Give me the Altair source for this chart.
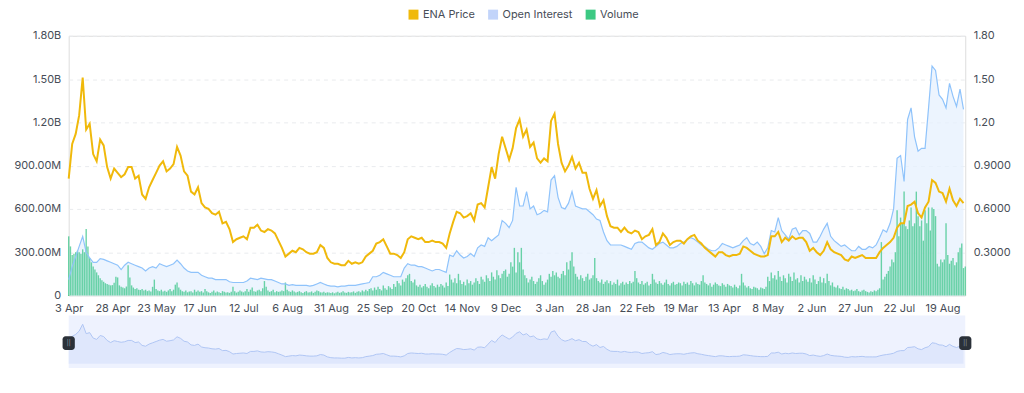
import altair as alt
import pandas as pd

# ---------------- data ----------------
tick_labels = ["3 Apr", "28 Apr", "23 May", "17 Jun", "12 Jul", "6 Aug", "31 Aug",
               "25 Sep", "20 Oct", "14 Nov", "9 Dec", "3 Jan", "28 Jan", "22 Feb",
               "19 Mar", "13 Apr", "8 May", "2 Jun", "27 Jun", "22 Jul", "19 Aug"]
tick_step = 25  # days between labelled ticks
series_names = ["ENA Price", "Open Interest", "Volume"]
line_step = 2   # price / open interest sampled every 2 days

# ENA price (USD), every 2 days
price = [
    0.81, 1.05, 1.12, 1.25, 1.51, 1.15, 1.19, 0.98, 0.93, 1.08,
    1.04, 0.89, 0.81, 0.88, 0.85, 0.82, 0.84, 0.89, 0.89, 0.81,
    0.83, 0.70, 0.67, 0.75, 0.80, 0.85, 0.90, 0.93, 0.86, 0.88,
    0.91, 1.03, 0.97, 0.86, 0.83, 0.72, 0.70, 0.75, 0.64, 0.61,
    0.60, 0.57, 0.56, 0.58, 0.50, 0.51, 0.46, 0.37, 0.39, 0.40,
    0.41, 0.39, 0.47, 0.47, 0.49, 0.45, 0.44, 0.46, 0.45, 0.43,
    0.38, 0.33, 0.27, 0.29, 0.31, 0.30, 0.33, 0.32, 0.30, 0.29,
    0.29, 0.30, 0.35, 0.33, 0.26, 0.23, 0.22, 0.22, 0.21, 0.21,
    0.24, 0.22, 0.23, 0.22, 0.23, 0.27, 0.29, 0.31, 0.36, 0.37,
    0.39, 0.34, 0.29, 0.29, 0.28, 0.26, 0.30, 0.39, 0.41, 0.40,
    0.39, 0.40, 0.37, 0.37, 0.38, 0.37, 0.37, 0.36, 0.33, 0.43,
    0.51, 0.58, 0.57, 0.54, 0.55, 0.57, 0.52, 0.63, 0.64, 0.61,
    0.75, 0.89, 0.81, 0.98, 1.10, 1.02, 0.94, 1.02, 1.16, 1.22,
    1.10, 1.15, 1.03, 1.06, 0.95, 0.92, 0.95, 0.93, 1.21, 1.26,
    1.05, 0.92, 0.86, 0.90, 0.96, 0.88, 0.92, 0.85, 0.85, 0.74,
    0.67, 0.73, 0.62, 0.66, 0.55, 0.48, 0.47, 0.47, 0.44, 0.47,
    0.44, 0.43, 0.45, 0.44, 0.39, 0.41, 0.42, 0.46, 0.35, 0.37,
    0.43, 0.40, 0.35, 0.37, 0.38, 0.38, 0.36, 0.39, 0.41, 0.42,
    0.38, 0.36, 0.33, 0.31, 0.29, 0.27, 0.30, 0.30, 0.28, 0.27,
    0.28, 0.28, 0.29, 0.34, 0.33, 0.31, 0.29, 0.28, 0.27, 0.27,
    0.28, 0.41, 0.41, 0.44, 0.37, 0.40, 0.38, 0.41, 0.39, 0.40,
    0.40, 0.37, 0.31, 0.33, 0.30, 0.28, 0.31, 0.37, 0.32, 0.30,
    0.29, 0.28, 0.25, 0.24, 0.27, 0.26, 0.27, 0.28, 0.26, 0.26,
    0.26, 0.26, 0.30, 0.33, 0.35, 0.37, 0.40, 0.47, 0.50, 0.50,
    0.62, 0.63, 0.65, 0.57, 0.54, 0.61, 0.65, 0.80, 0.78, 0.72,
    0.71, 0.65, 0.74, 0.66, 0.62, 0.67, 0.64,
]

# Open interest (billions USD), every 2 days
open_interest = [
    0.11, 0.20, 0.27, 0.34, 0.41, 0.30, 0.26, 0.23, 0.23, 0.255,
    0.25, 0.24, 0.23, 0.22, 0.21, 0.18, 0.21, 0.23, 0.22, 0.21,
    0.20, 0.19, 0.17, 0.19, 0.20, 0.19, 0.22, 0.21, 0.20, 0.21,
    0.22, 0.245, 0.22, 0.19, 0.17, 0.16, 0.16, 0.16, 0.14, 0.13,
    0.12, 0.12, 0.11, 0.11, 0.11, 0.11, 0.095, 0.09, 0.09, 0.09,
    0.09, 0.10, 0.12, 0.115, 0.11, 0.12, 0.115, 0.11, 0.11, 0.10,
    0.09, 0.08, 0.08, 0.07, 0.075, 0.07, 0.07, 0.07, 0.07, 0.065,
    0.07, 0.08, 0.09, 0.08, 0.07, 0.065, 0.065, 0.06, 0.065, 0.065,
    0.07, 0.07, 0.07, 0.075, 0.08, 0.085, 0.09, 0.13, 0.13, 0.14,
    0.16, 0.15, 0.14, 0.13, 0.13, 0.13, 0.19, 0.22, 0.21, 0.21,
    0.20, 0.20, 0.19, 0.18, 0.17, 0.18, 0.18, 0.17, 0.16, 0.28,
    0.27, 0.31, 0.28, 0.26, 0.27, 0.29, 0.27, 0.33, 0.35, 0.34,
    0.40, 0.38, 0.40, 0.42, 0.52, 0.50, 0.47, 0.52, 0.75, 0.62,
    0.62, 0.72, 0.60, 0.62, 0.56, 0.57, 0.59, 0.58, 0.80, 0.83,
    0.68, 0.61, 0.60, 0.64, 0.72, 0.62, 0.61, 0.60, 0.60, 0.58,
    0.56, 0.53, 0.52, 0.44, 0.38, 0.35, 0.35, 0.35, 0.35, 0.34,
    0.33, 0.32, 0.36, 0.37, 0.37, 0.35, 0.33, 0.32, 0.34, 0.36,
    0.37, 0.35, 0.33, 0.33, 0.34, 0.36, 0.37, 0.39, 0.40, 0.39,
    0.37, 0.35, 0.34, 0.32, 0.31, 0.31, 0.33, 0.36, 0.35, 0.34,
    0.33, 0.34, 0.35, 0.38, 0.40, 0.36, 0.35, 0.37, 0.34, 0.29,
    0.33, 0.45, 0.44, 0.54, 0.45, 0.42, 0.39, 0.46, 0.47, 0.42,
    0.45, 0.45, 0.43, 0.37, 0.37, 0.41, 0.46, 0.50, 0.41, 0.38,
    0.36, 0.34, 0.35, 0.33, 0.31, 0.31, 0.34, 0.32, 0.32, 0.34,
    0.33, 0.35, 0.40, 0.455, 0.44, 0.50, 0.60, 0.95, 0.97, 0.79,
    1.22, 1.30, 1.10, 1.00, 1.02, 1.02, 1.30, 1.59, 1.56, 1.39,
    1.36, 1.30, 1.47, 1.38, 1.31, 1.43, 1.29,
]

# Daily volume (millions USD)
volume = [
    410, 340, 280, 290, 300, 310, 300, 290, 320, 300, 460, 340, 260, 230, 200, 180, 160, 140, 120, 105, 95, 85, 80, 75, 70,
    72, 88, 130, 125, 70, 60, 55, 50, 62, 210, 125, 70, 55, 45, 50, 40, 38, 45, 35, 40, 30, 35, 28, 60, 110,
    45, 35, 30, 40, 28, 32, 25, 35, 45, 30, 40, 75, 90, 55, 40, 30, 25, 35, 22, 28, 30, 20, 40, 25, 35,
    25, 30, 20, 45, 30, 22, 18, 25, 35, 20, 28, 22, 18, 30, 25, 20, 22, 18, 25, 60, 30, 20, 25, 35, 28,
    22, 30, 45, 25, 40, 55, 30, 25, 35, 40, 30, 50, 100, 60, 35, 25, 30, 40, 22, 30, 25, 28, 35, 30, 90,
    40, 30, 25, 35, 28, 20, 25, 30, 22, 18, 25, 30, 20, 22, 28, 18, 25, 35, 30, 22, 20, 25, 18, 22, 20,
    18, 22, 15, 20, 25, 18, 22, 30, 20, 18, 25, 20, 22, 28, 18, 25, 30, 22, 35, 28, 40, 30, 45, 50, 35,
    55, 40, 60, 45, 35, 70, 50, 40, 65, 55, 45, 80, 60, 100, 85, 70, 110, 95, 120, 140, 150, 100, 90, 110, 70,
    60, 75, 55, 65, 80, 60, 50, 70, 85, 65, 55, 75, 60, 80, 70, 55, 90, 65, 145, 110, 90, 120, 85, 150, 105,
    80, 95, 70, 110, 85, 100, 75, 90, 120, 100, 80, 130, 110, 95, 140, 120, 100, 160, 130, 110, 175, 140, 120, 150, 170,
    180, 130, 150, 230, 200, 330, 160, 300, 230, 330, 180, 140, 120, 90, 110, 130, 100, 80, 95, 120, 140, 100, 75, 90, 110,
    150, 130, 170, 140, 160, 130, 120, 150, 170, 140, 230, 180, 240, 300, 200, 150, 130, 110, 140, 120, 100, 130, 150, 110, 120,
    140, 260, 120, 100, 90, 110, 80, 95, 105, 85, 100, 75, 90, 80, 110, 70, 85, 95, 75, 90, 80, 100, 85, 95, 170,
    120, 90, 80, 100, 75, 85, 95, 70, 80, 150, 110, 90, 80, 100, 85, 75, 90, 110, 80, 70, 85, 95, 75, 80, 90,
    85, 70, 95, 80, 90, 75, 100, 85, 70, 90, 80, 75, 100, 140, 90, 80, 70, 85, 60, 75, 90, 80, 70, 65, 85,
    75, 60, 80, 70, 65, 55, 75, 60, 50, 70, 150, 90, 70, 55, 65, 50, 45, 60, 55, 50, 40, 55, 50, 45, 60,
    130, 100, 160, 120, 140, 110, 170, 130, 100, 140, 120, 90, 150, 130, 100, 160, 110, 120, 90, 140, 100, 130, 110, 95, 120,
    90, 140, 110, 80, 100, 130, 90, 120, 85, 150, 100, 70, 90, 60, 55, 70, 50, 45, 60, 40, 50, 45, 35, 40, 30,
    35, 45, 30, 25, 35, 40, 30, 25, 20, 30, 25, 35, 30, 40, 50, 370, 110, 130, 150, 170, 200, 250, 230, 300, 590,
    410, 540, 500, 720, 480, 460, 520, 610, 480, 500, 720, 550, 480, 520, 380, 590, 500, 610, 450, 610, 600, 550, 220, 200, 250,
    230, 250, 500, 280, 220, 240, 260, 210, 230, 300, 330, 360, 190, 200,
]

legend_colors = ["#F0B90B", "#C2D4FA", "#3CC983"]

# ---------------- tables ----------------
n_days = len(volume)
line_df = pd.DataFrame({
    "i": [k * line_step for k in range(len(price))],
    "price": price,
    "oi": open_interest,
})
vol_df = pd.DataFrame({"i": list(range(n_days)), "vol": [v / 1000 for v in volume]})
legend_df = pd.DataFrame({"series": series_names, "i": [0] * 3, "v": [0] * 3})

FONT = "Inter"
LABEL = "#474D57"
W, H = 901, 261

xscale = alt.Scale(domain=[0, n_days - 1], nice=False, zero=False)
yscale = alt.Scale(domain=[0, 1.8], nice=False)

label_array = "[" + ",".join("'" + t + "'" for t in tick_labels) + "]"
x_axis = alt.Axis(
    values=[k * tick_step for k in range(len(tick_labels))],
    labelExpr=label_array + "[round(datum.value / " + str(tick_step) + ")]",
    grid=False, ticks=False, domain=False, labelPadding=7, title=None,
    labelFontSize=11, labelColor=LABEL, labelFont=FONT, labelFlush=False,
)
y_vals = [0, 0.3, 0.6, 0.9, 1.2, 1.5, 1.8]
y_left = alt.Axis(
    values=y_vals, orient="left", title=None,
    labelExpr="datum.value == 0 ? '0' : (datum.value < 1 ? format(datum.value * 1000, '.2f') + 'M' : format(datum.value, '.2f') + 'B')",
    grid=True, gridDash=[4, 4], gridColor="#E9EBEE", ticks=False, domain=False,
    labelPadding=8, labelFontSize=11, labelColor=LABEL, labelFont=FONT,
)
y_right = alt.Axis(
    values=y_vals[1:], orient="right", title=None,
    labelExpr="datum.value < 1 ? format(datum.value, '.4f') : format(datum.value, '.2f')",
    grid=False, ticks=False, domain=False,
    labelPadding=8, labelFontSize=11, labelColor=LABEL, labelFont=FONT,
)

x_enc = alt.X("i:Q", scale=xscale, axis=x_axis)

oi_area = alt.Chart(line_df).mark_area(color="#E6F0FE", opacity=0.75).encode(
    x=x_enc,
    y=alt.Y("oi:Q", scale=yscale, axis=y_left),
)
vol_bars = alt.Chart(vol_df).transform_calculate(
    x0="datum.i - 0.4", x1="datum.i + 0.4"
).mark_bar(color="#3CC68A", opacity=0.75).encode(
    x=alt.X("x0:Q", scale=xscale, axis=x_axis),
    x2="x1:Q",
    y=alt.Y("vol:Q", scale=yscale, axis=None),
    y2=alt.datum(0),
)
oi_line = alt.Chart(line_df).mark_line(color="#8FC3FB", strokeWidth=1.2).encode(
    x=x_enc,
    y=alt.Y("oi:Q", scale=yscale, axis=None),
)
price_line = alt.Chart(line_df).mark_line(color="#F0B90B", strokeWidth=2).encode(
    x=x_enc,
    y=alt.Y("price:Q", scale=yscale, axis=y_right),
)
legend_layer = alt.Chart(legend_df).mark_square(size=1, opacity=1).encode(
    x=x_enc,
    y=alt.Y("v:Q", scale=yscale, axis=None),
    color=alt.Color(
        "series:N",
        scale=alt.Scale(domain=series_names, range=legend_colors),
        legend=alt.Legend(
            orient="none", legendX=341, legendY=-27, direction="horizontal",
            title=None, symbolType="square", symbolSize=100, symbolStrokeWidth=0,
            symbolOpacity=1, labelFontSize=11, labelColor=LABEL, labelFont=FONT,
            columnPadding=12, labelOffset=4,
        ),
    ),
)

main = alt.layer(oi_area, vol_bars, oi_line, price_line, legend_layer).resolve_scale(
    y="independent"
).properties(width=W, height=H)

# ---------------- data-zoom slider ----------------
slider_scale = alt.Scale(domain=[-0.17, 1.85], nice=False, zero=False)
handle_df = pd.DataFrame({"i": [0, n_days - 1]})
slider_area = alt.Chart(line_df).mark_area(
    color="#D9E3FB", line={"color": "#AFC6F4", "strokeWidth": 1}
).encode(
    x=alt.X("i:Q", scale=xscale, axis=None),
    y=alt.Y("price:Q", scale=slider_scale, axis=None),
)
handles = alt.Chart(handle_df).transform_calculate(
    x0="datum.i - 3.5", x1="datum.i + 3.5", y0="0.52", y1="1.05"
).mark_rect(color="#2B3139", cornerRadius=3).encode(
    x=alt.X("x0:Q", scale=xscale, axis=None), x2="x1:Q",
    y=alt.Y("y0:Q", scale=slider_scale, axis=None), y2="y1:Q",
)
handle_marks = alt.Chart(handle_df).transform_calculate(ym="0.785").mark_text(
    text="||", color="#9AA3AF", fontSize=6, font=FONT
).encode(
    x=alt.X("i:Q", scale=xscale, axis=None),
    y=alt.Y("ym:Q", scale=slider_scale, axis=None),
)
slider = alt.layer(slider_area, handles, handle_marks).properties(
    width=W, height=53, view=alt.ViewBackground(fill="#EEF2FE", strokeWidth=0)
)

chart = alt.vconcat(main, slider, spacing=1).properties(
    padding={"left": 5, "top": 0, "right": 5, "bottom": 5},
).configure_view(strokeWidth=0).configure(font=FONT)

chart.save("out.html", embed_options={"renderer": "svg", "actions": False})
